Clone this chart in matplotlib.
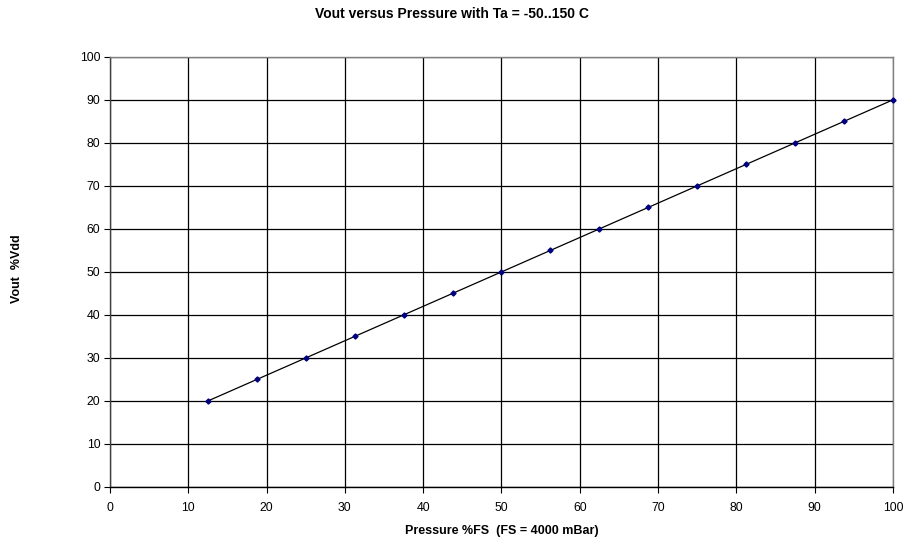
import matplotlib
matplotlib.use("Agg")
import matplotlib.pyplot as plt

plt.rcParams["font.family"] = ["Liberation Sans", "DejaVu Sans"]

# Pressure in %FS and output in %Vdd
pressure = [12.5, 18.75, 25, 31.25, 37.5, 43.75, 50, 56.25, 62.5, 68.75, 75, 81.25, 87.5, 93.75, 100]
vout = [20, 25, 30, 35, 40, 45, 50, 55, 60, 65, 70, 75, 80, 85, 90]

fig = plt.figure(figsize=(9.04, 5.38), dpi=100)
ax = fig.add_axes([0.1217, 0.0948, 0.866, 0.7995])

ax.plot(pressure, vout, color="black", linewidth=0.9, zorder=3)
ax.plot(pressure, vout, linestyle="none", marker="D", markersize=2.6,
        color="#000080", zorder=4, clip_on=False)

ax.set_xlim(0, 100)
ax.set_ylim(0, 100)
ax.set_xticks(range(0, 101, 10))
ax.set_yticks(range(0, 101, 10))
ax.grid(True, color="black", linewidth=0.9)
ax.set_axisbelow(True)
for s in ax.spines.values():
    s.set_color("#808080")
    s.set_linewidth(1.0)
ax.spines["bottom"].set_color("black")
ax.spines["left"].set_color("#404040")
ax.tick_params(direction="out", length=4, width=0.8, labelsize=8.8, color="black")
ax.tick_params(axis="x", pad=7)
ax.tick_params(axis="y", pad=3)

ax.set_xlabel("Pressure %FS  (FS = 4000 mBar)", fontsize=9, fontweight="bold", labelpad=8)
fig.text(0.019, 0.5, "Vout  %Vdd", rotation=90, fontsize=9, fontweight="bold",
         ha="center", va="center")
fig.text(0.5, 0.974, "Vout versus Pressure with Ta = -50..150 C", fontsize=10,
         fontweight="bold", ha="center", va="center")

fig.savefig("out.png", dpi=100)
